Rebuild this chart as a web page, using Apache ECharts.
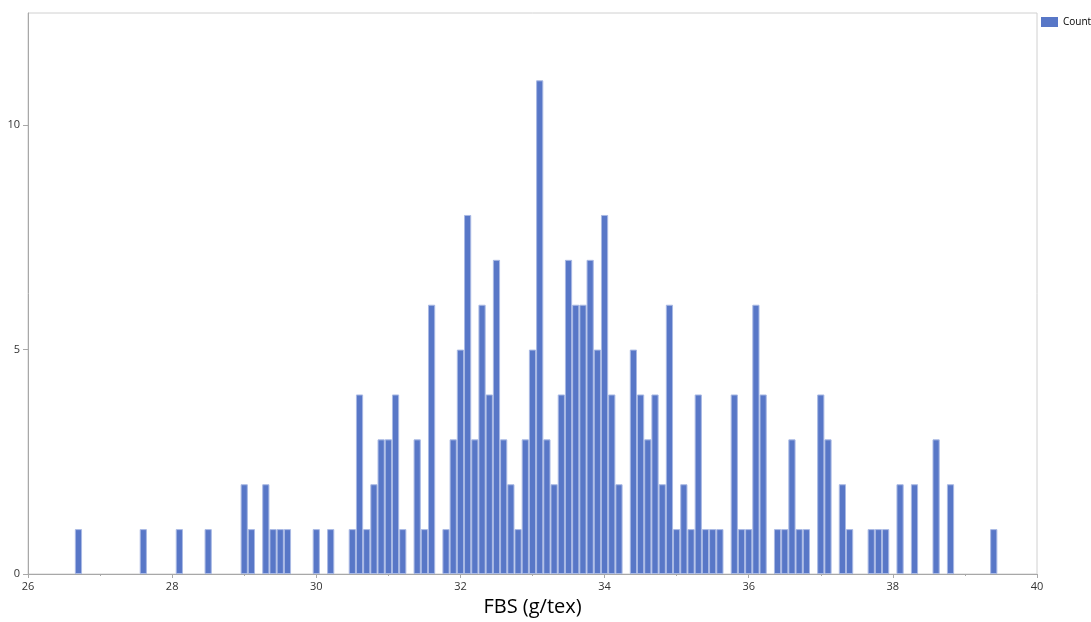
<!DOCTYPE html>
<html>
<head>
<meta charset="utf-8">
<script src="https://cdn.jsdelivr.net/npm/echarts@6/dist/echarts.min.js"></script>
<style>
html,body{margin:0;padding:0;background:#fff;}
#chart{width:1091px;height:622px;}
</style>
</head>
<body>
<div id="chart"></div>
<script>
// Bin centres (FBS, g/tex) with non-zero counts, bin width 0.1
const binCenters = [26.7, 27.6, 28.1, 28.5, 29.0, 29.1, 29.3, 29.4, 29.5, 29.6,
  30.0, 30.2, 30.5, 30.6, 30.7, 30.8, 30.9, 31.0, 31.1, 31.2,
  31.4, 31.5, 31.6, 31.8, 31.9, 32.0, 32.1, 32.2, 32.3, 32.4,
  32.5, 32.6, 32.7, 32.8, 32.9, 33.0, 33.1, 33.2, 33.3, 33.4,
  33.5, 33.6, 33.7, 33.8, 33.9, 34.0, 34.1, 34.2, 34.4, 34.5,
  34.6, 34.7, 34.8, 34.9, 35.0, 35.1, 35.2, 35.3, 35.4, 35.5,
  35.6, 35.8, 35.9, 36.0, 36.1, 36.2, 36.4, 36.5, 36.6, 36.7,
  36.8, 37.0, 37.1, 37.3, 37.4, 37.7, 37.8, 37.9, 38.1, 38.3,
  38.6, 38.8, 39.4];
const counts = [1, 1, 1, 1, 2, 1, 2, 1, 1, 1,
  1, 1, 1, 4, 1, 2, 3, 3, 4, 1,
  3, 1, 6, 1, 3, 5, 8, 3, 6, 4,
  7, 3, 2, 1, 3, 5, 11, 3, 2, 4,
  7, 6, 6, 7, 5, 8, 4, 2, 5, 4,
  3, 4, 2, 6, 1, 2, 1, 4, 1, 1,
  1, 4, 1, 1, 6, 4, 1, 1, 3, 1,
  1, 4, 3, 2, 1, 1, 1, 1, 2, 2,
  3, 2, 1];
const xTickLabels = [26, 28, 30, 32, 34, 36, 38, 40];
const yTickLabels = [0, 5, 10];
const seriesName = 'Count';
const xTitle = 'FBS (g/tex)';

const chart = echarts.init(document.getElementById('chart'), null, {renderer: 'canvas'});
const FONT = '"Open Sans", "Noto Sans", sans-serif';
const data = binCenters.map((x, i) => [x, counts[i]]);

chart.setOption({
  animation: false,
  backgroundColor: '#ffffff',
  grid: {
    left: 28, right: 54, top: 13, bottom: 46,
    containLabel: false,
    show: true, borderColor: '#d0d0d0', borderWidth: 1
  },
  legend: {
    data: [seriesName],
    left: 1041, top: 17,
    padding: 0,
    itemWidth: 17, itemHeight: 10,
    icon: 'rect',
    itemStyle: {borderWidth: 0, color: '#5877c7'},
    textStyle: {fontSize: 10, color: '#000', fontFamily: FONT}
  },
  xAxis: {
    type: 'value',
    min: 26, max: 40, interval: 2,
    name: xTitle,
    nameLocation: 'middle',
    nameGap: 23,
    nameTextStyle: {fontSize: 20, color: '#000', fontFamily: FONT},
    axisLine: {show: true, lineStyle: {color: '#a8a8a8', width: 1}},
    axisTick: {show: true, length: 4, lineStyle: {color: '#a8a8a8'}},
    minorTick: {show: true, splitNumber: 2, length: 2, lineStyle: {color: '#a8a8a8'}},
    axisLabel: {
      fontSize: 11, color: '#333', fontFamily: FONT, margin: 7,
      formatter: v => xTickLabels.indexOf(v) >= 0 ? String(v) : ''
    },
    splitLine: {show: false}
  },
  yAxis: {
    type: 'value',
    min: 0, max: 12.5, interval: 5,
    axisLine: {show: true, lineStyle: {color: '#a8a8a8', width: 1}},
    axisTick: {show: true, length: 5, lineStyle: {color: '#a8a8a8'}},
    axisLabel: {
      fontSize: 11, color: '#333', fontFamily: FONT, margin: 8,
      showMaxLabel: false,
      formatter: v => yTickLabels.indexOf(v) >= 0 ? String(v) : ''
    },
    splitLine: {show: false}
  },
  series: [{
    name: seriesName,
    type: 'bar',
    data: data,
    barWidth: '100%',
    itemStyle: {
      color: '#5877c7',
      borderColor: '#a9b9e4',
      borderWidth: 1
    },
    emphasis: {disabled: true}
  }]
});
</script>
</body>
</html>
